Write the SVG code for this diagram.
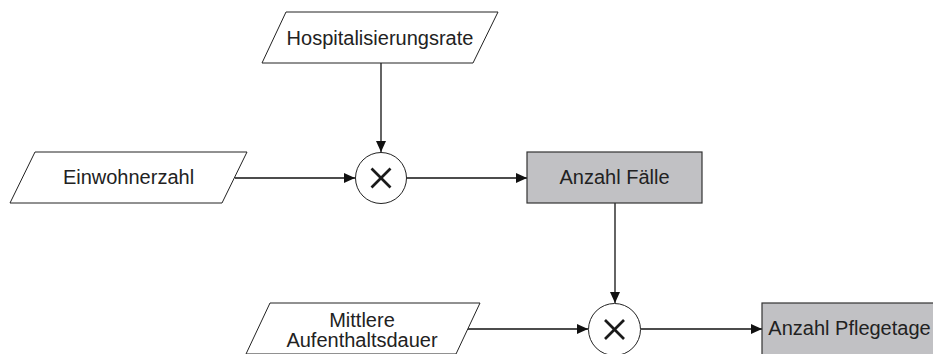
<svg xmlns="http://www.w3.org/2000/svg" width="933" height="354" viewBox="0 0 933 354">
<defs>
<style>
.io{fill:#ffffff;stroke:#222222;stroke-width:1}
.box{fill:#c1c1c4;stroke:#333333;stroke-width:1.2}
.op{fill:#ffffff;stroke:#222222;stroke-width:1}
.x{stroke:#1a1a1a;stroke-width:2.6;stroke-linecap:butt}
.lbl{font-family:"Liberation Sans",Arial,sans-serif;font-size:20px;fill:#222222;text-anchor:middle}
.con{fill:none;stroke:#111111;stroke-width:1.3}
</style>
<marker id="arr" markerWidth="12" markerHeight="10" refX="11" refY="5" orient="auto" markerUnits="userSpaceOnUse">
<path d="M0,0 L11,5 L0,10 Z" fill="#111111"/>
</marker>
</defs>
<rect width="933" height="354" fill="#ffffff"/>
<g id="connectors">
<line class="con" x1="381" y1="63" x2="381" y2="152" marker-end="url(#arr)"/>
<line class="con" x1="235" y1="178" x2="355" y2="178" marker-end="url(#arr)"/>
<line class="con" x1="407" y1="178" x2="527" y2="178" marker-end="url(#arr)"/>
<line class="con" x1="615" y1="203" x2="615" y2="303" marker-end="url(#arr)"/>
<line class="con" x1="468" y1="329" x2="588" y2="329" marker-end="url(#arr)"/>
<line class="con" x1="641" y1="329" x2="762" y2="329" marker-end="url(#arr)"/>
</g>
<g id="hospitalisierungsrate">
<polygon class="io" points="286,12 498,12 473,63 262,63"/>
<text class="lbl" x="380" y="45">Hospitalisierungsrate</text>
</g>
<g id="einwohnerzahl">
<polygon class="io" points="35,152 247,152 222,203 10,203"/>
<text class="lbl" x="128.5" y="184">Einwohnerzahl</text>
</g>
<g id="mult1">
<circle class="op" cx="381" cy="178" r="25.5"/>
<line class="x" x1="371.5" y1="168.5" x2="390.5" y2="187.5"/>
<line class="x" x1="390.5" y1="168.5" x2="371.5" y2="187.5"/>
</g>
<g id="anzahl-faelle">
<rect class="box" x="527" y="152" width="175" height="51"/>
<text class="lbl" x="614.5" y="184">Anzahl Fälle</text>
</g>
<g id="mittlere-aufenthaltsdauer">
<polygon class="io" points="270,303 480,303 456,354 246,354"/>
<text class="lbl" x="362" y="326.5">Mittlere</text>
<text class="lbl" x="362" y="346.5">Aufenthaltsdauer</text>
</g>
<g id="mult2">
<circle class="op" cx="614.5" cy="329.5" r="26"/>
<line class="x" x1="605" y1="320" x2="624" y2="339"/>
<line class="x" x1="624" y1="320" x2="605" y2="339"/>
</g>
<g id="anzahl-pflegetage">
<rect class="box" x="762" y="303" width="175" height="54"/>
<text class="lbl" x="849.5" y="335">Anzahl Pflegetage</text>
</g>
</svg>
